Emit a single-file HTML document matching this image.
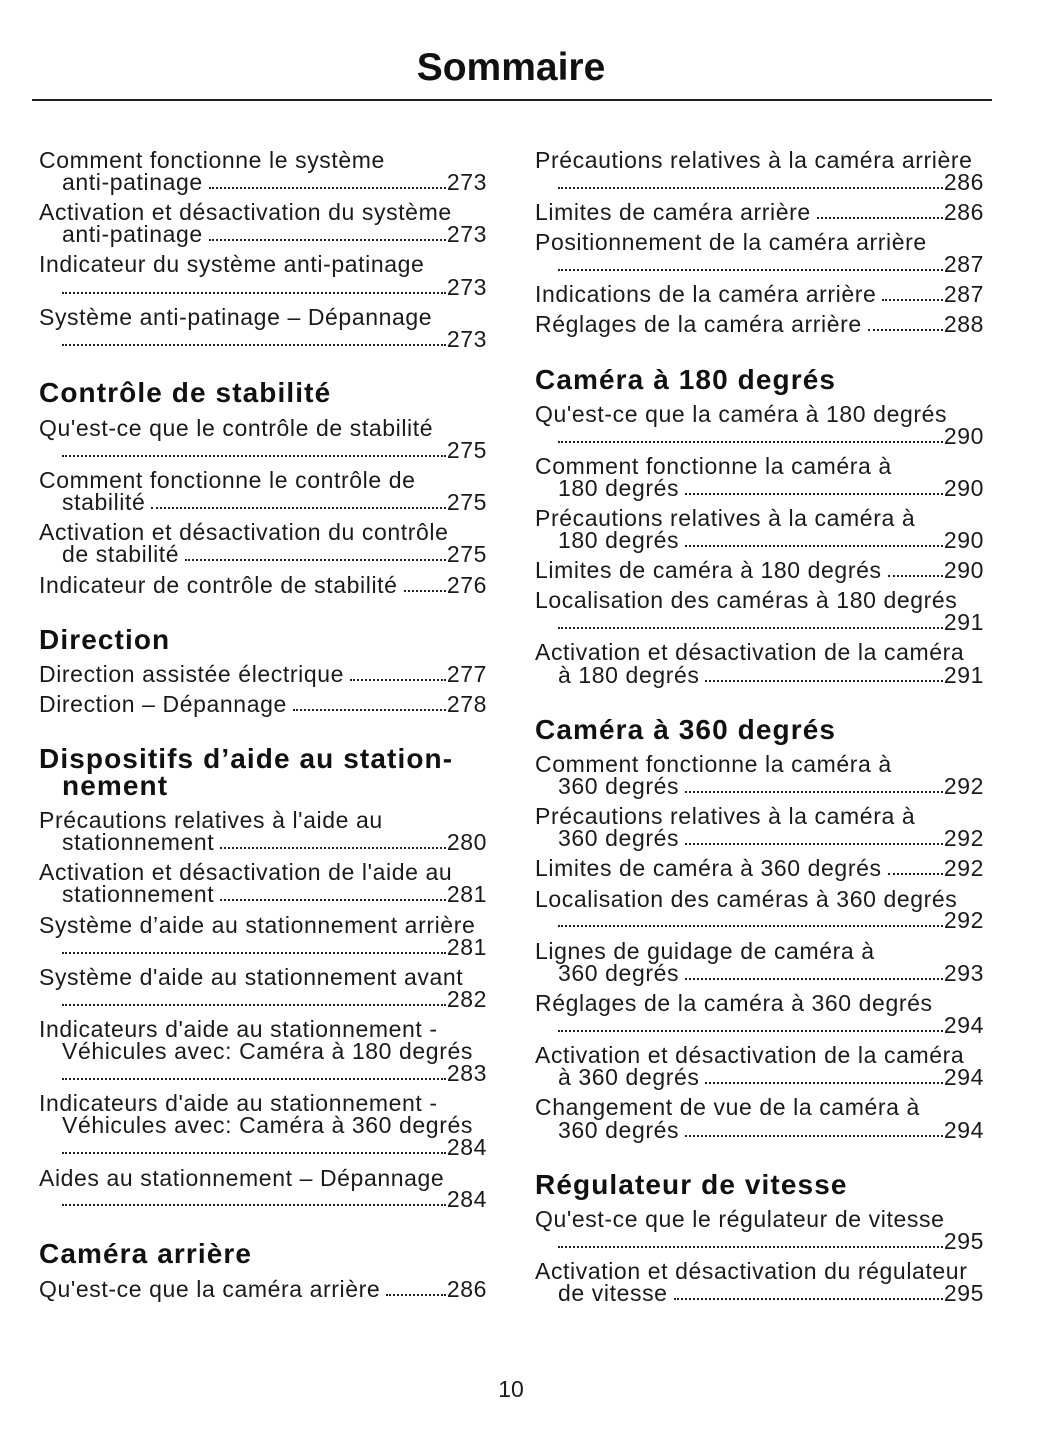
<!DOCTYPE html><html><head><meta charset="utf-8"><style>
body{margin:0;width:1055px;height:1448px;background:#fff;position:relative;font-family:"Liberation Sans",sans-serif;color:#1a1a1a;overflow:hidden}
.t{position:absolute;white-space:nowrap;font-size:23px;letter-spacing:0.6px;line-height:26px;height:26px;display:flex;align-items:flex-end}
.L{left:39px;width:448px}.Li{left:62px;width:425px}
.R{left:535px;width:449px}.Ri{left:558px;width:426px}
.d{flex:1;border-bottom:2.5px dotted #222;margin:0 1px 6px 6px;min-width:10px}
.d0{margin-left:0}
.h{position:absolute;font-weight:bold;font-size:28px;white-space:nowrap;line-height:30px;letter-spacing:1.1px;color:#111}
</style></head><body>
<div style="position:absolute;left:0;width:1022px;top:44px;text-align:center;font-weight:bold;font-size:39px;line-height:48px;color:#111">Sommaire</div>
<div style="position:absolute;left:32px;width:960px;top:99px;height:2px;background:#222"></div>

<div class="t L" style="top:147px">Comment fonctionne le système</div>
<div class="t Li" style="top:169px">anti-patinage<span class="d"></span>273</div>
<div class="t L" style="top:199px">Activation et désactivation du système</div>
<div class="t Li" style="top:221px">anti-patinage<span class="d"></span>273</div>
<div class="t L" style="top:251px">Indicateur du système anti-patinage</div>
<div class="t Li" style="top:274px"><span class="d d0"></span>273</div>
<div class="t L" style="top:304px">Système anti-patinage – Dépannage</div>
<div class="t Li" style="top:326px"><span class="d d0"></span>273</div>
<div class="h" style="left:39px;top:378px">Contrôle de stabilité</div>
<div class="t L" style="top:415px">Qu'est-ce que le contrôle de stabilité</div>
<div class="t Li" style="top:437px"><span class="d d0"></span>275</div>
<div class="t L" style="top:467px">Comment fonctionne le contrôle de</div>
<div class="t Li" style="top:489px">stabilité<span class="d"></span>275</div>
<div class="t L" style="top:519px">Activation et désactivation du contrôle</div>
<div class="t Li" style="top:541px">de stabilité<span class="d"></span>275</div>
<div class="t L" style="top:572px">Indicateur de contrôle de stabilité<span class="d"></span>276</div>
<div class="h" style="left:39px;top:625px">Direction</div>
<div class="t L" style="top:661px">Direction assistée électrique<span class="d"></span>277</div>
<div class="t L" style="top:691px">Direction – Dépannage<span class="d"></span>278</div>
<div class="h" style="left:39px;top:744px">Dispositifs d’aide au station-</div>
<div class="h" style="left:62px;top:771px">nement</div>
<div class="t L" style="top:807px">Précautions relatives à l'aide au</div>
<div class="t Li" style="top:829px">stationnement<span class="d"></span>280</div>
<div class="t L" style="top:859px">Activation et désactivation de l'aide au</div>
<div class="t Li" style="top:881px">stationnement<span class="d"></span>281</div>
<div class="t L" style="top:912px">Système d’aide au stationnement arrière</div>
<div class="t Li" style="top:934px"><span class="d d0"></span>281</div>
<div class="t L" style="top:964px">Système d'aide au stationnement avant</div>
<div class="t Li" style="top:986px"><span class="d d0"></span>282</div>
<div class="t L" style="top:1016px">Indicateurs d'aide au stationnement -</div>
<div class="t Li" style="top:1038px">Véhicules avec: Caméra à 180 degrés</div>
<div class="t Li" style="top:1060px"><span class="d d0"></span>283</div>
<div class="t L" style="top:1090px">Indicateurs d'aide au stationnement -</div>
<div class="t Li" style="top:1112px">Véhicules avec: Caméra à 360 degrés</div>
<div class="t Li" style="top:1134px"><span class="d d0"></span>284</div>
<div class="t L" style="top:1165px">Aides au stationnement – Dépannage</div>
<div class="t Li" style="top:1186px"><span class="d d0"></span>284</div>
<div class="h" style="left:39px;top:1239px">Caméra arrière</div>
<div class="t L" style="top:1276px">Qu'est-ce que la caméra arrière<span class="d"></span>286</div>

<div class="t R" style="top:147px">Précautions relatives à la caméra arrière</div>
<div class="t Ri" style="top:169px"><span class="d d0"></span>286</div>
<div class="t R" style="top:199px">Limites de caméra arrière<span class="d"></span>286</div>
<div class="t R" style="top:229px">Positionnement de la caméra arrière</div>
<div class="t Ri" style="top:251px"><span class="d d0"></span>287</div>
<div class="t R" style="top:281px">Indications de la caméra arrière<span class="d"></span>287</div>
<div class="t R" style="top:311px">Réglages de la caméra arrière<span class="d"></span>288</div>
<div class="h" style="left:535px;top:365px">Caméra à 180 degrés</div>
<div class="t R" style="top:401px">Qu'est-ce que la caméra à 180 degrés</div>
<div class="t Ri" style="top:423px"><span class="d d0"></span>290</div>
<div class="t R" style="top:453px">Comment fonctionne la caméra à</div>
<div class="t Ri" style="top:475px">180 degrés<span class="d"></span>290</div>
<div class="t R" style="top:505px">Précautions relatives à la caméra à</div>
<div class="t Ri" style="top:527px">180 degrés<span class="d"></span>290</div>
<div class="t R" style="top:557px">Limites de caméra à 180 degrés<span class="d"></span>290</div>
<div class="t R" style="top:587px">Localisation des caméras à 180 degrés</div>
<div class="t Ri" style="top:609px"><span class="d d0"></span>291</div>
<div class="t R" style="top:639px">Activation et désactivation de la caméra</div>
<div class="t Ri" style="top:662px">à 180 degrés<span class="d"></span>291</div>
<div class="h" style="left:535px;top:715px">Caméra à 360 degrés</div>
<div class="t R" style="top:751px">Comment fonctionne la caméra à</div>
<div class="t Ri" style="top:773px">360 degrés<span class="d"></span>292</div>
<div class="t R" style="top:803px">Précautions relatives à la caméra à</div>
<div class="t Ri" style="top:825px">360 degrés<span class="d"></span>292</div>
<div class="t R" style="top:855px">Limites de caméra à 360 degrés<span class="d"></span>292</div>
<div class="t R" style="top:886px">Localisation des caméras à 360 degrés</div>
<div class="t Ri" style="top:907px"><span class="d d0"></span>292</div>
<div class="t R" style="top:938px">Lignes de guidage de caméra à</div>
<div class="t Ri" style="top:960px">360 degrés<span class="d"></span>293</div>
<div class="t R" style="top:990px">Réglages de la caméra à 360 degrés</div>
<div class="t Ri" style="top:1012px"><span class="d d0"></span>294</div>
<div class="t R" style="top:1042px">Activation et désactivation de la caméra</div>
<div class="t Ri" style="top:1064px">à 360 degrés<span class="d"></span>294</div>
<div class="t R" style="top:1094px">Changement de vue de la caméra à</div>
<div class="t Ri" style="top:1117px">360 degrés<span class="d"></span>294</div>
<div class="h" style="left:535px;top:1170px">Régulateur de vitesse</div>
<div class="t R" style="top:1206px">Qu'est-ce que le régulateur de vitesse</div>
<div class="t Ri" style="top:1228px"><span class="d d0"></span>295</div>
<div class="t R" style="top:1258px">Activation et désactivation du régulateur</div>
<div class="t Ri" style="top:1280px">de vitesse<span class="d"></span>295</div>

<div style="position:absolute;left:0;width:1022px;top:1376px;text-align:center;font-size:23px;line-height:26px">10</div>
</body></html>
